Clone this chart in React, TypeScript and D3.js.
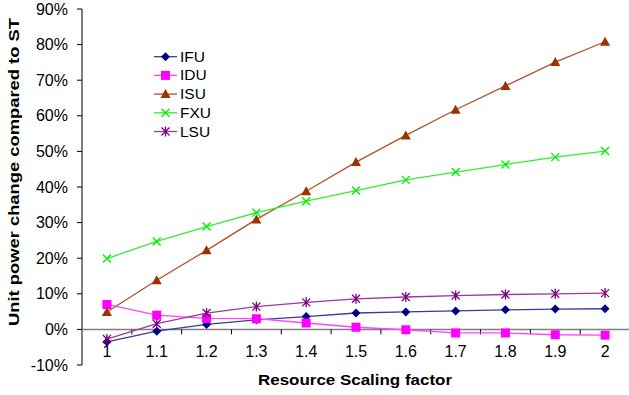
import React, { useEffect, useRef } from 'react'
import * as d3 from 'd3'

const factors = ['1', '1.1', '1.2', '1.3', '1.4', '1.5', '1.6', '1.7', '1.8', '1.9', '2']
const ifu = [-3.5, -0.5, 1.4, 2.7, 3.6, 4.6, 4.9, 5.2, 5.5, 5.7, 5.8]
const idu = [7.0, 4.0, 3.1, 3.0, 1.8, 0.6, -0.1, -1.0, -1.0, -1.5, -1.6]
const isu = [4.9, 13.8, 22.2, 30.9, 38.8, 47.0, 54.5, 61.7, 68.4, 75.1, 80.8]
const fxu = [19.9, 24.7, 28.9, 32.8, 36.0, 39.0, 42.0, 44.2, 46.3, 48.4, 50.1]
const lsu = [-2.7, 1.6, 4.6, 6.4, 7.6, 8.6, 9.1, 9.5, 9.8, 10.0, 10.2]
const yTicks = [-10, 0, 10, 20, 30, 40, 50, 60, 70, 80, 90]

const series = [
  { name: 'IFU', values: ifu, color: '#000080', line: '#3a3a9a', marker: 'diamond' },
  { name: 'IDU', values: idu, color: '#ff00ff', line: '#ff44ff', marker: 'square' },
  { name: 'ISU', values: isu, color: '#993300', line: '#b0532a', marker: 'triangle' },
  { name: 'FXU', values: fxu, color: '#00ee00', line: '#33ee33', marker: 'x' },
  { name: 'LSU', values: lsu, color: '#800080', line: '#9a3a9a', marker: 'star' },
]

const W = 629
const H = 395
const FONT = 'Liberation Sans, Arial, sans-serif'

function drawMarker(g: any, type: string, x: number, y: number, color: string) {
  if (type === 'diamond') {
    g.append('path').attr('d', `M${x},${y - 4.5}L${x + 4.5},${y}L${x},${y + 4.5}L${x - 4.5},${y}Z`).attr('fill', color)
  } else if (type === 'square') {
    g.append('rect').attr('x', x - 4.5).attr('y', y - 4.5).attr('width', 9).attr('height', 9).attr('fill', color)
  } else if (type === 'triangle') {
    g.append('path').attr('d', `M${x},${y - 5}L${x + 5},${y + 4}L${x - 5},${y + 4}Z`).attr('fill', color)
  } else if (type === 'x') {
    g.append('path').attr('d', `M${x - 4},${y - 4}L${x + 4},${y + 4}M${x - 4},${y + 4}L${x + 4},${y - 4}`)
      .attr('stroke', color).attr('stroke-width', 1.3)
  } else {
    g.append('path').attr('d', `M${x - 4},${y - 4}L${x + 4},${y + 4}M${x - 4},${y + 4}L${x + 4},${y - 4}M${x},${y - 5}L${x},${y + 5}`)
      .attr('stroke', color).attr('stroke-width', 1.3)
  }
}

export default function App() {
  const ref = useRef<SVGSVGElement>(null)

  useEffect(() => {
    const svg = d3.select(ref.current)
    svg.selectAll('*').remove()

    const x = d3.scaleBand().domain(factors).range([82, 630])
    const y = d3.scaleLinear().domain([-10, 90]).range([365, 9])
    const cx = (f: string) => (x(f) as number) + x.bandwidth() / 2

    // y axis
    const yAxis = svg.append('g').attr('transform', 'translate(82,0)')
    yAxis.append('line').attr('y1', y(90)).attr('y2', y(-10)).attr('stroke', '#000')
    yAxis.selectAll('.tk').data(yTicks).enter().append('line')
      .attr('x1', -5).attr('x2', 0).attr('y1', d => y(d)).attr('y2', d => y(d)).attr('stroke', '#000')
    yAxis.selectAll('text').data(yTicks).enter().append('text')
      .attr('x', -14).attr('y', d => y(d) + 5.5).attr('text-anchor', 'end')
      .attr('font-family', FONT).attr('font-size', 16)
      .text(d => `${d}%`)

    // x axis along 0
    const x0 = y(0)
    svg.append('line').attr('x1', 82).attr('x2', 630).attr('y1', x0).attr('y2', x0)
      .attr('stroke', '#808080').attr('stroke-width', 1.5)
    const bounds = factors.slice(1).map(f => x(f) as number)
    svg.selectAll('.xtk').data(bounds).enter().append('line')
      .attr('x1', d => d).attr('x2', d => d).attr('y1', x0).attr('y2', x0 + 5).attr('stroke', '#000')
    svg.selectAll('.xlab').data(factors).enter().append('text')
      .attr('x', d => cx(d)).attr('y', 357).attr('text-anchor', 'middle')
      .attr('font-family', FONT).attr('font-size', 16)
      .text(d => d)

    const line = d3.line<number>().x((_, i) => cx(factors[i])).y(d => y(d))
    series.forEach(s => {
      svg.append('path').attr('d', line(s.values)).attr('fill', 'none')
        .attr('stroke', s.line).attr('stroke-width', 1.3)
    })
    series.forEach(s => {
      const g = svg.append('g')
      s.values.forEach((v, i) => drawMarker(g, s.marker, cx(factors[i]), y(v), s.color))
    })

    // legend
    const lg = svg.append('g')
    series.forEach((s, i) => {
      const ly = 56.7 + i * 18.7
      lg.append('line').attr('x1', 154).attr('x2', 177).attr('y1', ly).attr('y2', ly)
        .attr('stroke', s.line).attr('stroke-width', 1.3)
      drawMarker(lg, s.marker, 165.5, ly, s.color)
      lg.append('text').attr('x', 180).attr('y', ly + 5)
        .attr('font-family', FONT).attr('font-size', 15.5)
        .text(s.name)
    })

    svg.append('text').attr('x', 355).attr('y', 385).attr('text-anchor', 'middle')
      .attr('font-family', FONT).attr('font-size', 15.5).attr('font-weight', 'bold')
      .attr('textLength', 194).attr('lengthAdjust', 'spacingAndGlyphs')
      .text('Resource Scaling factor')
    svg.append('text').attr('transform', 'translate(19,172) rotate(-90)').attr('text-anchor', 'middle')
      .attr('font-family', FONT).attr('font-size', 15.5).attr('font-weight', 'bold')
      .attr('textLength', 308).attr('lengthAdjust', 'spacingAndGlyphs')
      .text('Unit power change compared to ST')
  }, [])

  return (
    <svg ref={ref} width={W} height={H} style={{ position: 'absolute', left: 0, top: 0, background: '#fff' }} />
  )
}
